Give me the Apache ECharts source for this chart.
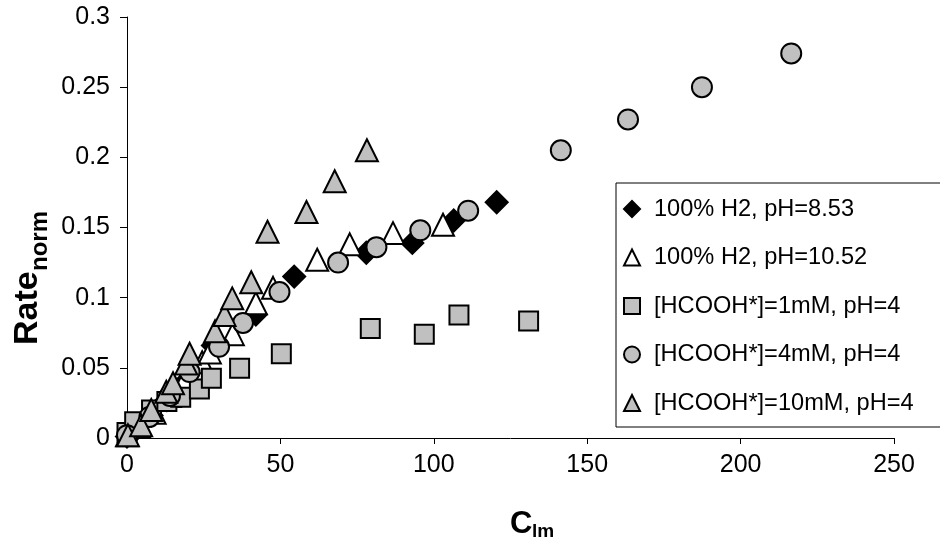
<!DOCTYPE html>
<html>
<head>
<meta charset="utf-8">
<script src="https://cdn.jsdelivr.net/npm/echarts@6/dist/echarts.min.js"></script>
<style>
html,body{margin:0;padding:0;background:#fff;}
#chart{width:940px;height:552px;}
</style>
</head>
<body>
<div id="chart"></div>
<script>
// Series names
var seriesNames = ['100% H2, pH=8.53', '100% H2, pH=10.52', '[HCOOH*]=1mM, pH=4', '[HCOOH*]=4mM, pH=4', '[HCOOH*]=10mM, pH=4'];

// 100% H2, pH=8.53 (black diamonds)
var h2ph853 = [[0,0.001],[3,0.006],[8,0.016],[13,0.027],[19,0.040],[28,0.066],[42,0.088],[54.5,0.115],[78,0.132],[93,0.139],[106.5,0.155],[120.5,0.168]];
// 100% H2, pH=10.52 (white triangles)
var h2ph1052 = [[0,0.002],[4,0.008],[9,0.018],[14,0.030],[19,0.042],[24.5,0.054],[27,0.061],[34.5,0.074],[42,0.096],[47.6,0.107],[62,0.127],[72.6,0.138],[86.7,0.146],[103,0.152]];
// [HCOOH*]=1mM (gray squares)
var hcooh1 = [[0,0.004],[2.5,0.0115],[8,0.020],[13,0.026],[17.5,0.029],[23.6,0.035],[27.5,0.0425],[36.7,0.0497],[50.3,0.060],[79.3,0.078],[96.9,0.074],[108.2,0.0877],[130.9,0.0834]];
// [HCOOH*]=4mM (gray circles)
var hcooh4 = [[0,0.002],[7.3,0.015],[14,0.030],[20.4,0.047],[30,0.065],[37.8,0.082],[49.7,0.104],[68.8,0.125],[81.3,0.136],[95.6,0.148],[111.2,0.162],[141.4,0.205],[163.3,0.227],[187.4,0.250],[216.5,0.274]];
// [HCOOH*]=10mM (gray triangles)
var hcooh10 = [[0.3,0.002],[4.6,0.009],[7.9,0.020],[12.8,0.033],[15,0.039],[19.3,0.053],[20.4,0.060],[28.7,0.076],[31.8,0.0877],[34.3,0.0995],[40.5,0.111],[45.8,0.147],[58.5,0.161],[67.7,0.183],[78.2,0.205]];

// Axis ticks
var xTicks = [0, 50, 100, 150, 200, 250];
var yTicks = [0, 0.05, 0.1, 0.15, 0.2, 0.25, 0.3];

// Axis titles (main part + subscript)
var xTitle = ['C', 'lm'];
var yTitle = ['Rate', 'norm'];

var FONT = '"Liberation Sans", Arial, sans-serif';
var GRAY = '#C0C0C0';

var chart = echarts.init(document.getElementById('chart'));

function mk(name, data, symbol, size, color) {
  return {
    name: name, type: 'scatter', data: data, symbol: symbol, symbolSize: size,
    itemStyle: {color: color, borderColor: '#000', borderWidth: 2, opacity: 1},
    emphasis: {disabled: true}
  };
}

function txt(t, x, y, size, rot) {
  return {
    type: 'text', x: x, y: y, rotation: rot || 0, silent: true,
    style: {text: t, fill: '#000', fontSize: size, fontWeight: 'bold', fontFamily: FONT,
      textAlign: 'left', textVerticalAlign: 'middle'}
  };
}

chart.setOption({
  animation: false,
  backgroundColor: '#fff',
  grid: {left: 127, right: 46, top: 17, bottom: 114, containLabel: false},
  xAxis: {
    type: 'value', min: xTicks[0], max: xTicks[xTicks.length-1], interval: 50,
    axisLine: {show: true, onZero: false, lineStyle: {color: '#000', width: 1}},
    axisTick: {show: true, inside: false, length: 6, lineStyle: {color: '#000'}},
    splitLine: {show: false},
    axisLabel: {color: '#000', fontSize: 25, fontFamily: FONT, margin: 15}
  },
  yAxis: {
    type: 'value', min: yTicks[0], max: yTicks[yTicks.length-1], interval: 0.05,
    axisLine: {show: true, lineStyle: {color: '#000', width: 1}},
    axisTick: {show: true, inside: false, length: 7, lineStyle: {color: '#000'}},
    splitLine: {show: false},
    axisLabel: {color: '#000', fontSize: 25, fontFamily: FONT, margin: 17,
      formatter: function (v) { return String(Math.round(v * 100) / 100); }}
  },
  graphic: [
    txt(xTitle[0], 510, 524, 31),
    txt(xTitle[1], 532, 532, 19),
    txt(yTitle[0], 28, 345, 34, Math.PI / 2),
    txt(yTitle[1], 40, 271, 24, Math.PI / 2)
  ],
  legend: {
    orient: 'vertical', left: 616, top: 183,
    padding: [14, 45, 12, 7],
    backgroundColor: '#fff', borderColor: '#000', borderWidth: 1,
    itemWidth: 16, itemHeight: 16, itemGap: 24.5,
    textStyle: {fontSize: 23.6, fontFamily: FONT, color: '#000', padding: [0,0,0,9]},
    data: seriesNames
  },
  series: [
    mk(seriesNames[0], h2ph853, 'diamond', 22, '#000'),
    mk(seriesNames[1], h2ph1052, 'triangle', 22, '#fff'),
    mk(seriesNames[2], hcooh1, 'rect', 19, GRAY),
    mk(seriesNames[3], hcooh4, 'circle', 20, GRAY),
    mk(seriesNames[4], hcooh10, 'triangle', 22, GRAY)
  ]
});
</script>
</body>
</html>
